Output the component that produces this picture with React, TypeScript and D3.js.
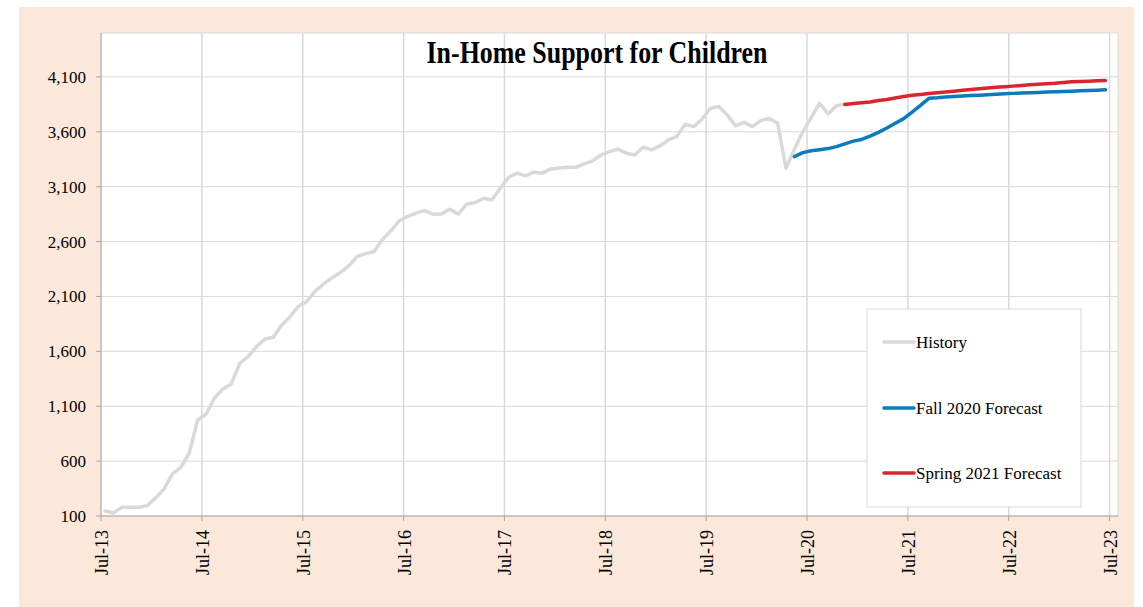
import React from "react";
import * as d3 from "d3";

// Month index 0 = Jul-13 ... 120 = Jul-23 (category axis, points at category centres)
const tickLabels = ["Jul-13", "Jul-14", "Jul-15", "Jul-16", "Jul-17", "Jul-18", "Jul-19", "Jul-20", "Jul-21", "Jul-22", "Jul-23"];
const yTicks = [100, 600, 1100, 1600, 2100, 2600, 3100, 3600, 4100];

const historyStart = 0;
const history = [
  145, 128, 180, 180, 180, 194, 265, 346, 483, 544,
  674, 975, 1027, 1175, 1257, 1303, 1491, 1552, 1643, 1713,
  1728, 1840, 1916, 2013, 2055, 2150, 2215, 2270, 2320, 2380,
  2465, 2490, 2510, 2620, 2700, 2790, 2830, 2860, 2882, 2849,
  2852, 2894, 2849, 2940, 2955, 2994, 2979, 3086, 3186, 3223,
  3198, 3232, 3223, 3262, 3271, 3277, 3277, 3307, 3335, 3389,
  3419, 3441, 3405, 3389, 3460, 3435, 3471, 3526, 3556, 3669,
  3647, 3714, 3815, 3830, 3754, 3654, 3687, 3647, 3702, 3724,
  3678, 3268, 3440, 3600, 3730, 3860, 3763, 3836, 3854,
];

const fallStart = 82;
const fall2020 = [
  3374, 3410, 3428, 3437, 3447, 3465, 3490, 3515, 3530, 3560,
  3595, 3635, 3678, 3720, 3780, 3840, 3905, 3910, 3918, 3922,
  3926, 3930, 3934, 3938, 3942, 3946, 3950, 3953, 3956, 3959,
  3962, 3965, 3967, 3970, 3973, 3976, 3979, 3982,
];

const springStart = 88;
const spring2021 = [
  3848, 3858, 3865, 3872, 3885, 3895, 3908, 3922, 3932, 3940,
  3948, 3955, 3962, 3970, 3978, 3985, 3992, 3998, 4005, 4010,
  4016, 4022, 4028, 4033, 4038, 4043, 4050, 4055, 4058, 4061,
  4064, 4067,
];

const seriesNames = ["History", "Fall 2020 Forecast", "Spring 2021 Forecast"];
const seriesColors = ["#d9d9d9", "#0a7bbd", "#d9262e"];

const FONT = "'Liberation Serif', 'Times New Roman', serif";

export default function App() {
  const W = 1143, H = 607;
  const left = 101, right = 1118, top = 33, bottom = 516;
  const x = d3.scaleLinear().domain([0, 121]).range([left, right]);
  const y = d3.scaleLinear().domain([100, 4500]).range([bottom, top]);

  const line = d3
    .line<[number, number]>()
    .x((d) => x(d[0] + 0.5))
    .y((d) => y(d[1]));

  const toPts = (arr: number[], start: number) => arr.map((v, i) => [start + i, v] as [number, number]);
  const series = [
    toPts(history, historyStart),
    toPts(fall2020, fallStart),
    toPts(spring2021, springStart),
  ];

  const xTickIdx = tickLabels.map((_, i) => i * 12);

  const legend = { x: 867, y: 309, w: 214, h: 198 };
  const legendRows = [342, 408, 473];

  return (
    <svg width={W} height={H} style={{ position: "absolute", left: 0, top: 0 }} fontFamily={FONT}>
      <rect x={0} y={0} width={W} height={H} fill="#ffffff" />
      <rect x={19} y={7} width={1115} height={600} fill="#fce8da" />
      <rect x={left} y={top} width={right - left} height={bottom - top} fill="#ffffff" stroke="#d9d9d9" strokeWidth={1} />

      {/* horizontal gridlines */}
      {yTicks.filter((t) => t > 100).map((t) => (
        <line key={"hg" + t} x1={left} x2={right} y1={y(t)} y2={y(t)} stroke="#d9d9d9" strokeWidth={1} />
      ))}
      {/* vertical gridlines */}
      {xTickIdx.filter((i) => i > 0).map((i) => (
        <line key={"vg" + i} x1={x(i)} x2={x(i)} y1={top} y2={bottom} stroke="#d9d9d9" strokeWidth={1.5} />
      ))}

      {/* axes */}
      <line x1={left} x2={left} y1={top} y2={bottom} stroke="#a6a6a6" strokeWidth={1} />
      <line x1={left} x2={right} y1={bottom} y2={bottom} stroke="#a6a6a6" strokeWidth={1} />
      {yTicks.map((t) => (
        <g key={"yt" + t}>
          <line x1={left - 5} x2={left} y1={y(t)} y2={y(t)} stroke="#a6a6a6" />
          <text x={left - 15} y={y(t)} dy="0.35em" textAnchor="end" fontSize={17} fill="#000">
            {d3.format(",")(t)}
          </text>
        </g>
      ))}
      {xTickIdx.map((i, k) => (
        <g key={"xt" + i}>
          <line x1={x(i)} x2={x(i)} y1={bottom} y2={bottom + 5} stroke="#a6a6a6" />
          <text
            transform={`translate(${x(i) + 7},${bottom + 14}) rotate(-90)`}
            textAnchor="end"
            fontSize={18}
            fill="#000"
          >
            {tickLabels[k]}
          </text>
        </g>
      ))}

      {/* series */}
      {series.map((pts, k) => (
        <path key={"s" + k} d={line(pts) || ""} fill="none" stroke={seriesColors[k]} strokeWidth={3.5} strokeLinejoin="round" strokeLinecap="round" />
      ))}

      {/* title */}
      <text x={597} y={63} textAnchor="middle" fontSize={31} fontWeight="bold" textLength={341} lengthAdjust="spacingAndGlyphs" fill="#000">
        In-Home Support for Children
      </text>

      {/* legend */}
      <rect x={legend.x} y={legend.y} width={legend.w} height={legend.h} fill="#ffffff" stroke="#d9d9d9" />
      {seriesNames.map((n, k) => (
        <g key={"lg" + k}>
          <line x1={884} x2={914} y1={legendRows[k]} y2={legendRows[k]} stroke={seriesColors[k]} strokeWidth={3.5} strokeLinecap="round" />
          <text x={916} y={legendRows[k]} dy="0.35em" fontSize={17} fill="#000">
            {n}
          </text>
        </g>
      ))}
    </svg>
  );
}
